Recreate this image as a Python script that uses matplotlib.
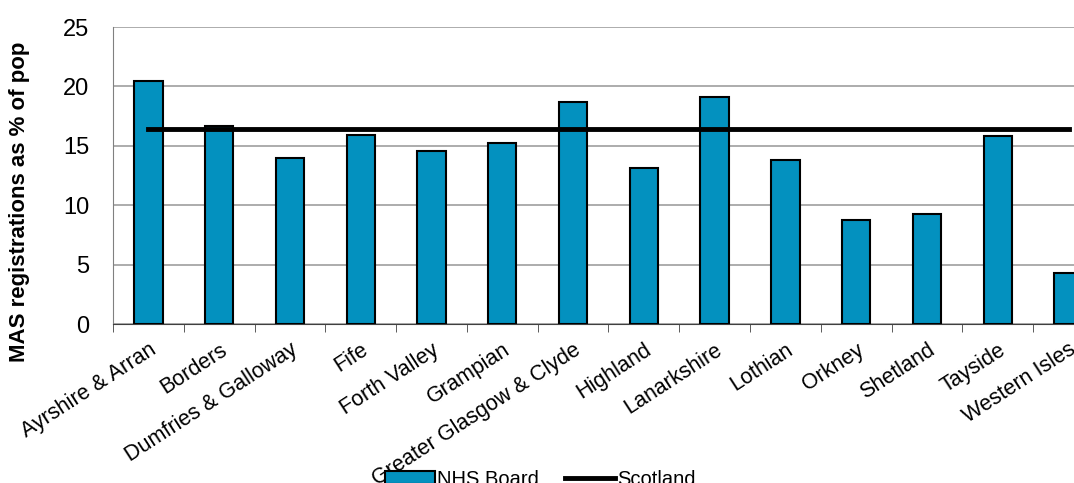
import numpy as np
import matplotlib.pyplot as plt
from matplotlib.patches import Patch
from matplotlib.lines import Line2D

plt.rcParams['font.family'] = ['Liberation Sans', 'DejaVu Sans']

boards = ["Ayrshire & Arran", "Borders", "Dumfries & Galloway", "Fife", "Forth Valley",
          "Grampian", "Greater Glasgow & Clyde", "Highland", "Lanarkshire", "Lothian",
          "Orkney", "Shetland", "Tayside", "Western Isles"]
nhs_board = [20.5, 16.7, 14.0, 15.9, 14.6, 15.2, 18.7, 13.1, 19.1, 13.8, 8.8, 9.3, 15.8, 4.3]
scotland = [16.4] * len(boards)

fig = plt.figure(figsize=(10.74, 4.83), dpi=100)
# plot area runs a little past the right edge, as in the original crop
ax = fig.add_axes([0.1052, 0.329, 0.9227, 0.615])

x = np.arange(len(boards))
ax.bar(x, nhs_board, width=0.4, color='#0391BF', edgecolor='black', linewidth=1.5, zorder=3)
ax.plot(x, scotland, color='black', linewidth=3.5, zorder=4)

ax.set_xlim(-0.5, len(boards) - 0.5)
ax.set_ylim(0, 25)
ax.set_yticks([0, 5, 10, 15, 20, 25])
ax.yaxis.grid(True, color='#A6A6A6', linewidth=1.3, zorder=0)
ax.tick_params(axis='y', labelsize=17, length=0, pad=17)

ax.set_xticks(x)
ax.set_xticklabels(boards, rotation=33, ha='right', rotation_mode='anchor', fontsize=15.5)
ax.set_xticks(np.arange(-0.5, len(boards), 1), minor=True)
ax.tick_params(axis='x', which='major', length=0, pad=11)
ax.tick_params(axis='x', which='minor', length=6, color='#404040')

for s in ['top', 'right']:
    ax.spines[s].set_visible(False)
ax.spines['left'].set_color('#808080')
ax.spines['bottom'].set_color('#404040')

ax.set_ylabel('MAS registrations as % of pop', fontsize=16, fontweight='bold')
ax.yaxis.set_label_coords(-0.084, 0.41)

handles = [Patch(facecolor='#0391BF', edgecolor='black', linewidth=1.5),
           Line2D([], [], color='black', linewidth=3.5)]
fig.legend(handles, ['NHS Board', 'Scotland'], loc='center', bbox_to_anchor=(0.503, 0.008),
           ncol=2, frameon=False, fontsize=14.5, handlelength=2.5, handleheight=0.6,
           columnspacing=1.3, handletextpad=0.1)

fig.savefig('out.png', dpi=100)
